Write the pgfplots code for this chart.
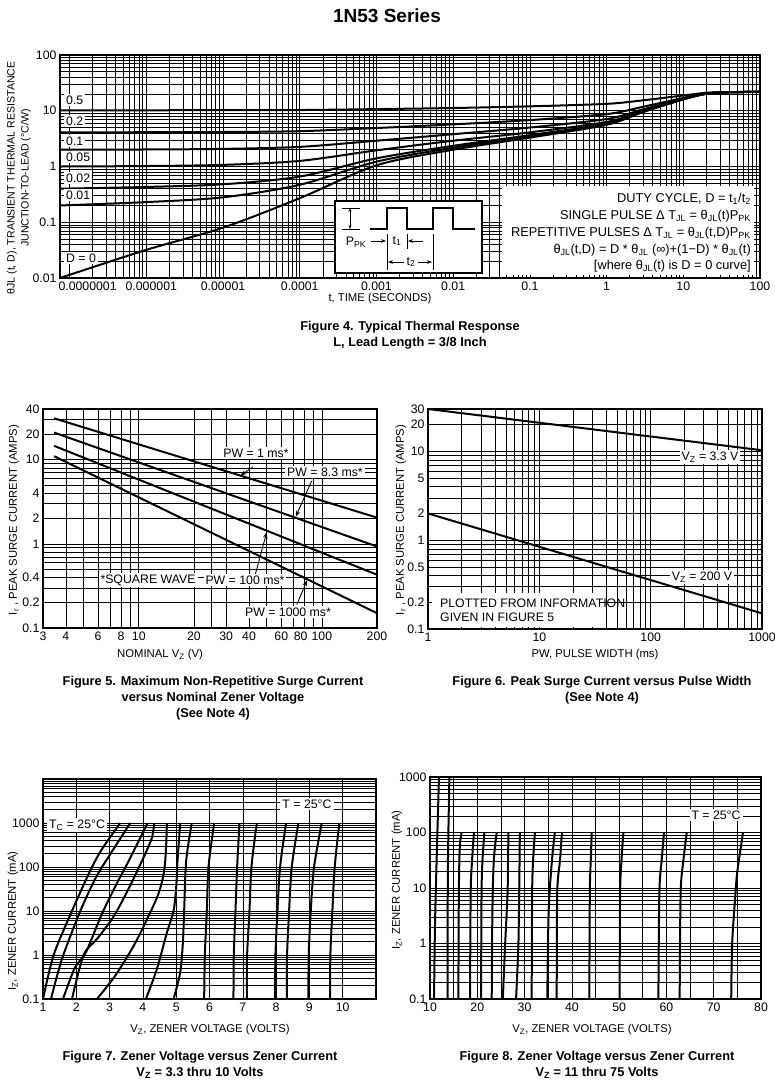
\documentclass[border=0pt]{standalone}
\usepackage{fontspec}
\setmainfont{Liberation Sans}
\usepackage{pgfplots}
\pgfplotsset{compat=1.18}
\usetikzlibrary{arrows.meta}

\pgfplotsset{
  dsheet/.style={
    scale only axis, anchor=north west,
    axis line style={line width=1.1pt},
    major grid style={line width=0.6pt, black},
    minor grid style={line width=0.6pt, black},
    major tick length=0pt, minor tick length=0pt,
    tick label style={font=\fontsize{12.3}{14}\selectfont},
    /pgf/number format/assume math mode=true,
    every axis plot/.append style={line width=2pt, black, mark=none},
  },
}
\tikzset{
  lbl/.style={font=\fontsize{12.3}{14}\selectfont, inner sep=1pt},
  albl/.style={font=\fontsize{11.3}{13}\selectfont, inner sep=1pt},
  figcap/.style={font=\bfseries\fontsize{12.8}{16}\selectfont, align=center},
}

\begin{document}
\begin{tikzpicture}
\path[use as bounding box] (0pt,0pt) rectangle (775pt,-1092pt);

\node[font=\bfseries\fontsize{19}{22}\selectfont] at (387pt,-16pt) {1N53 Series};

% ---------------- Figure 4 ----------------
\begin{axis}[dsheet, xmode=log, ymode=log, at={(60pt,-55pt)}, width=700pt, height=223pt,
  xmin=7.5e-8, xmax=100, ymin=0.01, ymax=100, grid=both,
  xtick={1e-7,1e-6,1e-5,1e-4,1e-3,1e-2,1e-1,1,10,100},
  xticklabels={\hspace*{36pt}0.0000001,\hspace*{10pt}0.000001,0.00001,0.0001,0.001,0.01,0.1,1,10,100},
  ytick={0.01,0.1,1,10,100}, yticklabels={0.01,0.1,1,10,100}]
% D = 0
\addplot[smooth] coordinates {(7.5e-8,0.010) (1e-6,0.032) (1e-5,0.08) (1e-4,0.27) (1e-3,1.05) (0.01,2.0) (0.1,3.3) (1,5.6) (3,9.5) (10,16) (20,20.2) (40,21.5) (100,21.8)};
% D = 0.01
\addplot[smooth] coordinates {(7.5e-8,0.20) (1e-6,0.23) (1e-5,0.28) (1e-4,0.47) (1e-3,1.22) (0.01,2.17) (0.1,3.47) (1,5.75) (3,9.6) (10,16.05) (20,20.2) (40,21.5) (100,21.8)};
% D = 0.02
\addplot[smooth] coordinates {(7.5e-8,0.40) (1e-6,0.43) (1e-5,0.48) (1e-4,0.66) (1e-3,1.4) (0.01,2.35) (0.1,3.65) (1,5.9) (3,9.7) (10,16.1) (20,20.2) (40,21.5) (100,21.8)};
% D = 0.05
\addplot[smooth] coordinates {(7.5e-8,1.0) (1e-6,1.02) (1e-5,1.07) (1e-4,1.26) (1e-3,1.95) (0.01,2.9) (0.1,4.1) (1,6.3) (3,10.0) (10,16.3) (20,20.3) (40,21.5) (100,21.8)};
% D = 0.1
\addplot[smooth] coordinates {(7.5e-8,2.0) (1e-6,2.02) (1e-5,2.07) (1e-4,2.25) (1e-3,2.9) (0.01,3.8) (0.1,5.0) (1,7.1) (3,10.6) (10,16.5) (20,20.4) (40,21.5) (100,21.8)};
% D = 0.2
\addplot[smooth] coordinates {(7.5e-8,4.1) (1e-6,4.12) (1e-5,4.16) (1e-4,4.3) (1e-3,4.9) (0.01,5.7) (0.1,6.8) (1,8.7) (3,11.8) (10,17.0) (20,20.6) (40,21.6) (100,21.8)};
% D = 0.5
\addplot[smooth] coordinates {(7.5e-8,10.2) (1e-6,10.2) (1e-5,10.25) (1e-4,10.3) (1e-3,10.7) (0.01,11.2) (0.1,12.0) (1,13.3) (3,15.4) (10,18.8) (20,21.0) (40,21.6) (100,21.8)};
\end{axis}

\foreach \t/\y in {0.5/100, 0.2/121, 0.1/141, 0.05/157, 0.02/178, 0.01/195, {D = 0}/258}
  \node[lbl, fill=white, anchor=west, inner sep=2pt] at (64pt,-\y pt) {\t};

% pulse inset
\draw[line width=1.2pt, fill=white] (335pt,-201pt) rectangle (482pt,-273pt);
\draw[line width=0.8pt] (342pt,-208pt) -- (360pt,-208pt);
\draw[line width=0.8pt] (342pt,-229pt) -- (360pt,-229pt);
\draw[line width=0.9pt, {Stealth[length=4pt]}-{Stealth[length=4pt]}] (350pt,-208pt) -- (350pt,-229pt);
\draw[line width=1.3pt] (370pt,-229pt) -- (387pt,-229pt) -- (387pt,-208pt) -- (407pt,-208pt) -- (407pt,-229pt)
   -- (433pt,-229pt) -- (433pt,-208pt) -- (453pt,-208pt) -- (453pt,-229pt) -- (475pt,-229pt);
\node[lbl] at (356pt,-242pt) {P\textsubscript{PK}};
\draw[line width=0.7pt] (387pt,-234pt) -- (387pt,-270pt);
\draw[line width=0.7pt] (407pt,-234pt) -- (407pt,-249pt);
\draw[line width=0.7pt] (433pt,-234pt) -- (433pt,-270pt);
\draw[line width=0.9pt, -{Stealth[length=5pt]}] (371pt,-241pt) -- (386pt,-241pt);
\node[lbl] at (397pt,-241pt) {t\textsubscript{1}};
\draw[line width=0.9pt, -{Stealth[length=5pt]}] (423pt,-241pt) -- (408pt,-241pt);
\draw[line width=0.9pt, -{Stealth[length=5pt]}] (404pt,-262pt) -- (388pt,-262pt);
\node[lbl] at (411pt,-262pt) {t\textsubscript{2}};
\draw[line width=0.9pt, -{Stealth[length=5pt]}] (418pt,-262pt) -- (432pt,-262pt);

% formula block
\fill[white] (502pt,-186pt) rectangle (754pt,-275pt);
\begin{scope}[lbl/.append style={font=\fontsize{12.8}{14}\selectfont}]
\node[lbl, anchor=east] at (752pt,-199pt) {DUTY CYCLE, D = t\textsubscript{1}/t\textsubscript{2}};
\node[lbl, anchor=east] at (752pt,-216pt) {SINGLE PULSE Δ T\textsubscript{JL} = θ\textsubscript{JL}(t)P\textsubscript{PK}};
\node[lbl, anchor=east] at (752pt,-233pt) {REPETITIVE PULSES Δ T\textsubscript{JL} = θ\textsubscript{JL}(t,D)P\textsubscript{PK}};
\node[lbl, anchor=east] at (752pt,-250pt) {θ\textsubscript{JL}(t,D) = D * θ\textsubscript{JL} (∞)+(1−D) * θ\textsubscript{JL}(t)};
\node[lbl, anchor=east] at (752pt,-266pt) {[where θ\textsubscript{JL}(t) is D = 0 curve]};
\end{scope}

\node[albl, font=\fontsize{10.6}{12}\selectfont, rotate=90] at (12pt,-178pt) {θJL (t, D), TRANSIENT THERMAL RESISTANCE};
\node[albl, font=\fontsize{10.6}{12}\selectfont, rotate=90] at (26pt,-178pt) {JUNCTION-TO-LEAD (°C/W)};
\node[albl] at (380pt,-299pt) {t, TIME (SECONDS)};
\node[figcap] at (410pt,-327pt) {Figure 4. Typical Thermal Response};
\node[figcap] at (410pt,-343pt) {L, Lead Length = 3/8 Inch};

% ---------------- Figure 5 ----------------
\begin{axis}[dsheet, xmode=log, ymode=log, at={(43pt,-409pt)}, width=334pt, height=219pt,
  xmin=3, xmax=200, ymin=0.1, ymax=40, xmajorgrids, ymajorgrids,
  xtick={3,4,5,6,7,8,9,10,20,25,30,40,50,60,70,80,90,100,200},
  xticklabels={3,4,,6,,8,,10,20,,30,40,,60,,80\hspace*{7pt},,100,200},
  ytick={0.1,0.2,0.3,0.4,0.5,0.6,0.7,0.8,0.9,1,2,3,4,5,6,7,8,9,10,20,30,40},
  yticklabels={0.1,0.2,,0.4,,,,,,1,2,,4,,,,,,10,20,,40}]
\addplot[] coordinates {(3.45,31) (200,2.05)};
\addplot[] coordinates {(3.45,21) (200,0.93)};
\addplot[] coordinates {(3.45,14.6) (200,0.43)};
\addplot[] coordinates {(3.45,11) (200,0.15)};
\draw[line width=0.9pt, -{Stealth[length=6pt]}] (axis cs:42,8.2) -- (axis cs:36,6.5);
\draw[line width=0.9pt, -{Stealth[length=6pt]}] (axis cs:88,5.6) -- (axis cs:72,2.1);
\draw[line width=0.9pt, -{Stealth[length=6pt]}] (axis cs:42,0.34) -- (axis cs:50,1.38);
\draw[line width=0.9pt, -{Stealth[length=6pt]}] (axis cs:73,0.19) -- (axis cs:83,0.37);
\end{axis}
\node[lbl, fill=white, inner sep=2pt] at (256pt,-453pt) {PW = 1 ms*};
\node[lbl, fill=white, inner sep=2pt] at (325pt,-472pt) {PW = 8.3 ms*};
\node[lbl, fill=white, inner sep=2pt] at (245pt,-580pt) {PW = 100 ms*};
\node[lbl, fill=white, inner sep=2pt] at (288pt,-612pt) {PW = 1000 ms*};
\node[lbl, fill=white, inner sep=2pt] at (148pt,-580pt) {*SQUARE WAVE};
\node[albl, rotate=90] at (14pt,-520pt) {I\textsubscript{r} , PEAK SURGE CURRENT (AMPS)};
\node[albl] at (160pt,-655pt) {NOMINAL V\textsubscript{Z} (V)};
\node[figcap] at (213pt,-698pt) {Figure 5. Maximum Non-Repetitive Surge Current\\versus Nominal Zener Voltage\\(See Note 4)};

% ---------------- Figure 6 ----------------
\begin{axis}[dsheet, xmode=log, ymode=log, at={(428pt,-409pt)}, width=334pt, height=220pt,
  xmin=1, xmax=1000, ymin=0.1, ymax=30, xmajorgrids, xminorgrids, ymajorgrids,
  xtick={1,10,100,1000}, xticklabels={1,10,100,1000},
  ytick={0.1,0.2,0.3,0.4,0.5,0.6,0.7,0.8,0.9,1,2,3,4,5,6,7,8,9,10,20,30},
  yticklabels={0.1,0.2,,,0.5,,,,,1,2,,,5,,,,,10,20,30}]
\addplot[] coordinates {(1,30) (1000,10.3)};
\addplot[] coordinates {(1,2) (1000,0.15)};
\end{axis}
\node[lbl, fill=white, inner sep=2pt] at (710pt,-457pt) {V\textsubscript{Z} = 3.3 V};
\node[lbl, fill=white, inner sep=2pt] at (702pt,-577pt) {V\textsubscript{Z} = 200 V};
\fill[white] (432pt,-593pt) rectangle (600pt,-627pt);
\node[lbl, anchor=west, align=left] at (439pt,-610pt) {PLOTTED FROM INFORMATION\\GIVEN IN FIGURE 5};
\node[albl, rotate=90] at (401pt,-520pt) {I\textsubscript{r} , PEAK SURGE CURRENT (AMPS)};
\node[albl] at (595pt,-655pt) {PW, PULSE WIDTH (ms)};
\node[figcap] at (602pt,-690pt) {Figure 6. Peak Surge Current versus Pulse Width\\(See Note 4)};

% ---------------- Figure 7 ----------------
\begin{axis}[dsheet, ymode=log, at={(43pt,-779pt)}, width=333pt, height=220pt,
  xmin=1, xmax=11, ymin=0.1, ymax=10000, grid=both,
  xtick={1,2,3,4,5,6,7,8,9,10,11}, xticklabels={1,2,3,4,5,6,7,8,9,10,},
  ytick={0.1,1,10,100,1000,10000}, yticklabels={0.1,1,10,100,1000,}]
\addplot[smooth] coordinates {(1.0,0.1) (1.32,1.0) (1.87,10) (2.42,83) (2.77,254) (3.32,1000)};
\addplot[smooth] coordinates {(1.24,0.1) (1.57,0.81) (2.12,10) (2.6,60) (3.02,196) (3.62,1000)};
\addplot[smooth] coordinates {(1.6,0.1) (1.95,0.5) (2.3,1.2) (2.75,8) (3.2,40) (3.6,150) (4.14,1000)};
\addplot[smooth] coordinates {(1.87,0.1) (2.22,1) (2.62,2.3) (3.12,7.5) (3.57,32) (4.02,165) (4.27,460) (4.34,1000)};
\addplot[smooth] coordinates {(2.62,0.1) (3.17,0.34) (3.72,1.6) (4.12,6.4) (4.47,25) (4.64,83) (4.70,330) (4.72,1000)};
\addplot[smooth] coordinates {(4.09,0.1) (4.42,0.48) (4.72,3.2) (4.92,10) (5.0,35) (5.04,139) (5.12,1000)};
\addplot[smooth] coordinates {(4.92,0.1) (5.12,0.4) (5.2,1.9) (5.24,10.6) (5.3,139) (5.47,1000)};
\addplot[smooth] coordinates {(5.84,0.1) (5.86,1) (5.92,10) (5.97,100) (6.14,1000)};
\addplot[smooth] coordinates {(6.72,0.1) (6.73,1) (6.78,10) (6.83,100) (6.90,1000)};
\addplot[smooth] coordinates {(7.12,0.1) (7.13,1) (7.2,10) (7.26,100) (7.42,1000)};
\addplot[smooth] coordinates {(7.97,0.1) (7.98,1) (8.04,10) (8.12,100) (8.30,1000)};
\addplot[smooth] coordinates {(8.32,0.1) (8.33,1) (8.39,10) (8.47,100) (8.67,1000)};
\addplot[smooth] coordinates {(8.97,0.1) (8.98,1) (9.04,10) (9.14,100) (9.37,1000)};
\addplot[smooth] coordinates {(9.62,0.1) (9.63,1) (9.69,10) (9.76,100) (9.90,1000)};
\end{axis}
\node[lbl, fill=white, inner sep=2pt, anchor=west] at (47pt,-825pt) {T\textsubscript{C} = 25°C};
\node[lbl, fill=white, inner sep=2pt] at (307pt,-804pt) {T = 25°C};
\node[albl, rotate=90] at (13pt,-921pt) {I\textsubscript{Z}, ZENER CURRENT (mA)};
\node[albl] at (210pt,-1030pt) {V\textsubscript{Z}, ZENER VOLTAGE (VOLTS)};
\node[figcap] at (200pt,-1065pt) {Figure 7. Zener Voltage versus Zener Current\\V\textsubscript{Z} = 3.3 thru 10 Volts};

% ---------------- Figure 8 ----------------
\begin{axis}[dsheet, ymode=log, at={(430pt,-777pt)}, width=331pt, height=222pt,
  xmin=10, xmax=80, ymin=0.1, ymax=1000, grid=both,
  xtick={10,15,20,25,30,35,40,45,50,55,60,65,70,75,80},
  xticklabels={10,,20,,30,,40,,50,,60,,70,,80},
  ytick={0.1,1,10,100,1000}, yticklabels={0.1,1,10,100,1000}]
\addplot[smooth] coordinates {(10.85,0.1) (11.05,2) (11.4,32) (11.9,1000)};
\addplot[smooth] coordinates {(13.74,0.1) (13.74,2) (13.8,32) (14.1,1000)};
\addplot[smooth] coordinates {(16.0,0.1) (16.1,8) (16.3,55) (16.7,100)};
\addplot[smooth] coordinates {(18.47,0.1) (18.6,8) (18.9,32) (19.3,100)};
\addplot[smooth] coordinates {(20.8,0.1) (20.9,8) (21.1,32) (21.5,100)};
\addplot[smooth] coordinates {(23.05,0.1) (23.2,4) (23.5,32) (24.1,100)};
\addplot[smooth] coordinates {(25.4,0.1) (25.9,1) (26.4,8) (26.5,32) (26.6,100)};
\addplot[smooth] coordinates {(28.2,0.1) (28.7,1) (28.9,16) (29.0,100)};
\addplot[smooth] coordinates {(31.5,0.1) (31.6,8) (31.8,32) (32.2,100)};
\addplot[smooth] coordinates {(34.8,0.1) (35.1,4) (35.8,32) (36.4,100)};
\addplot[smooth] coordinates {(36.8,0.1) (36.9,8) (37.5,32) (37.9,100)};
\addplot[smooth] coordinates {(43.7,0.1) (43.8,8) (44.0,32) (44.2,100)};
\addplot[smooth] coordinates {(50.1,0.1) (50.2,8) (50.5,32) (50.9,100)};
\addplot[smooth] coordinates {(58.3,0.1) (58.5,8) (59.0,32) (59.5,100)};
\addplot[smooth] coordinates {(62.8,0.1) (63.0,8) (63.6,32) (64.3,100)};
\addplot[smooth] coordinates {(73.7,0.1) (73.9,1) (74.6,8) (75.0,20) (76.2,100)};
\end{axis}
\node[lbl, fill=white, inner sep=2pt] at (716pt,-815pt) {T = 25°C};
\node[albl, rotate=90] at (397pt,-880pt) {I\textsubscript{Z}, ZENER CURRENT (mA)};
\node[albl] at (592pt,-1030pt) {V\textsubscript{Z}, ZENER VOLTAGE (VOLTS)};
\node[figcap] at (597pt,-1065pt) {Figure 8. Zener Voltage versus Zener Current\\V\textsubscript{Z} = 11 thru 75 Volts};

\end{tikzpicture}
\end{document}
